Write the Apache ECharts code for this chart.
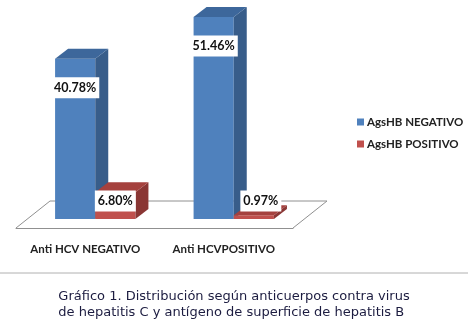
<!DOCTYPE html>
<html>
<head>
<meta charset="utf-8">
<script src="https://cdn.jsdelivr.net/npm/echarts@6/dist/echarts.min.js"></script>
<style>
html,body{margin:0;padding:0;background:#fff;}
#c{width:468px;height:323px;}
</style>
</head>
<body>
<div id="c"></div>
<script>
var categories = ['Anti HCV NEGATIVO', 'Anti HCVPOSITIVO'];
var seriesNames = ['AgsHB NEGATIVO', 'AgsHB POSITIVO'];
var negValues = [40.78, 51.46];
var posValues = [6.80, 0.97];
var captionLines = ['Gráfico 1. Distribución según anticuerpos contra virus', 'de hepatitis C y antígeno de superficie de hepatitis B'];

var palette = [
  {front: '#4F81BD', side: '#385D8A', top: '#3D679B'},
  {front: '#C0504D', side: '#8A3634', top: '#A5413E'}
];
var SHIFT_X = 10, SHIFT_Y = -9, DX = 13, DY = -10;
var FLOOR_DX = 34, FLOOR_DY = -27;

function barRenderer(sIdx) {
  return function (params, api) {
    var idx = api.value(0), val = api.value(1);
    var c0 = api.coord([idx, 0]);
    var c1 = api.coord([idx, val]);
    var bandW = api.size([1, 0])[0];
    var w = bandW * 0.29;
    var x0 = sIdx === 0 ? c0[0] + SHIFT_X - w : c0[0] + SHIFT_X;
    var bottom = c0[1] + SHIFT_Y;
    var top = c1[1] + SHIFT_Y;
    var col = palette[sIdx];
    var labelY, labelX = x0 + w / 2;
    if (sIdx === 0) { labelY = top + 29; }
    else { labelY = Math.min(top + 13, bottom - 18); labelX += (bottom - top < 10 ? 7 : 0); }
    return {
      type: 'group',
      children: [
        {type: 'rect', shape: {x: x0, y: top, width: w, height: bottom - top}, style: {fill: col.front}},
        {type: 'polygon', shape: {points: [[x0 + w, top], [x0 + w + DX, top + DY], [x0 + w + DX, bottom + DY], [x0 + w, bottom]]}, style: {fill: col.side}},
        {type: 'polygon', shape: {points: [[x0, top], [x0 + DX, top + DY], [x0 + w + DX, top + DY], [x0 + w, top]]}, style: {fill: col.top}},
        {type: 'text', z2: 10, x: labelX, y: labelY, style: {
          text: val.toFixed(2) + '%', align: 'center', verticalAlign: 'middle',
          fontFamily: 'Lato', fontWeight: 'bold', fontSize: 12.5, fill: '#111',
          backgroundColor: '#fff', padding: [4, 3, 4, 3]
        }}
      ]
    };
  };
}

var chart = echarts.init(document.getElementById('c'));
chart.setOption({
  animation: false,
  backgroundColor: '#fff',
  grid: {left: 16, top: 12, width: 277, height: 216},
  legend: {
    orient: 'vertical', left: 352, top: 111,
    data: seriesNames, icon: 'rect', itemWidth: 7, itemHeight: 7, itemGap: 10,
    textStyle: {fontFamily: 'Lato', fontWeight: 'bold', fontSize: 11.5, color: '#222', padding: [0, 0, 0, -2]}
  },
  xAxis: {
    type: 'category', data: categories, boundaryGap: true,
    axisLine: {lineStyle: {color: '#909090'}},
    axisTick: {length: 4, lineStyle: {color: '#909090'}},
    axisLabel: {interval: 0, margin: 15, fontFamily: 'Lato', fontWeight: 'bold', fontSize: 11.5, color: '#222'}
  },
  yAxis: {type: 'value', min: 0, max: 55, show: false, splitLine: {show: false}},
  graphic: [
    {type: 'line', shape: {x1: 0, y1: 273, x2: 468, y2: 273}, style: {stroke: '#b0b0b0', lineWidth: 1}},
    {type: 'text', left: 'center', top: 289, style: {text: captionLines.join('\n'), align: 'center', fontFamily: 'DejaVu Sans', fontSize: 13, fill: '#1c1c40', lineHeight: 16}}
  ],
  series: [
    {
      type: 'custom', name: '_floor', silent: true, z: 1,
      data: [[0, 0]],
      renderItem: function (params, api) {
        var cs = params.coordSys;
        var b = cs.y + cs.height, l = cs.x, r = cs.x + cs.width;
        return {type: 'polyline', shape: {points: [[l, b], [l + FLOOR_DX, b + FLOOR_DY], [r + FLOOR_DX, b + FLOOR_DY], [r, b]]}, style: {stroke: '#909090', fill: null, lineWidth: 1}};
      }
    },
    {type: 'custom', name: seriesNames[0], z: 2, itemStyle: {color: palette[0].front},
      data: negValues.map(function (v, i) { return [i, v]; }), renderItem: barRenderer(0)},
    {type: 'custom', name: seriesNames[1], z: 3, itemStyle: {color: palette[1].front},
      data: posValues.map(function (v, i) { return [i, v]; }), renderItem: barRenderer(1)}
  ]
});
</script>
</body>
</html>
